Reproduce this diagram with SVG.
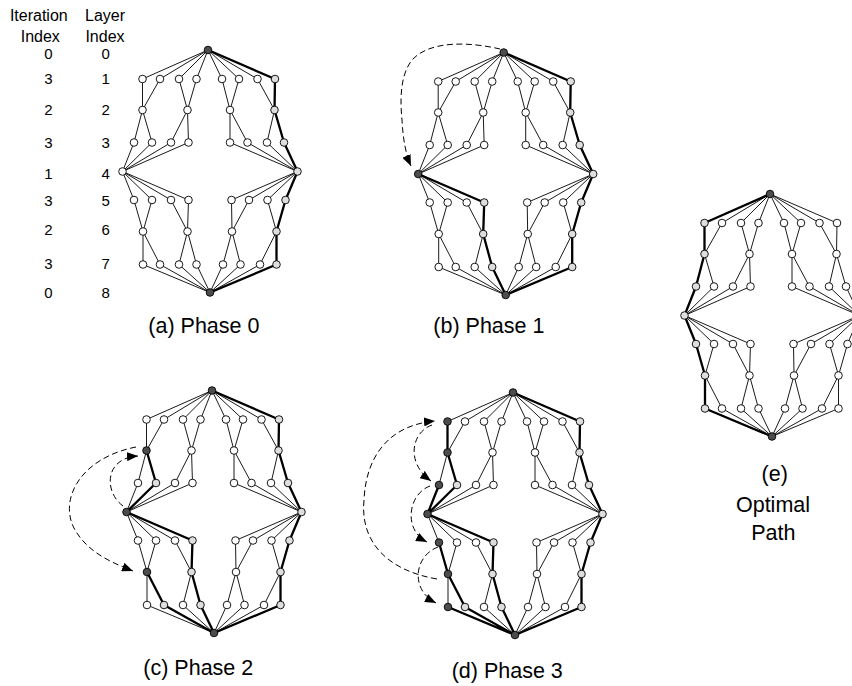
<svg xmlns="http://www.w3.org/2000/svg" xmlns:xlink="http://www.w3.org/1999/xlink" width="852" height="686" viewBox="0 0 852 686">
<style>
text{font-family:"Liberation Sans",Arial,Helvetica,sans-serif;fill:#000}
.hd{font-size:16px;text-anchor:middle}
.num{font-size:15px;text-anchor:middle}
.cap{font-size:21.5px}
.thin{fill:none;stroke:#000;stroke-width:0.9;stroke-linejoin:round;stroke-linecap:round}
.thick{fill:none;stroke:#000;stroke-width:2.3;stroke-linejoin:round;stroke-linecap:round}
.dash{fill:none;stroke:#000;stroke-width:1;stroke-dasharray:6 3.5}
circle{r:3.8px;fill:#fff;stroke:#000;stroke-width:0.9}
circle.g{fill:#dedede}
circle.d{fill:#4c4c4c}
</style>
<defs>
<marker id="ah" markerUnits="userSpaceOnUse" viewBox="0 0 11 9" refX="11" refY="4.5" markerWidth="11" markerHeight="9" orient="auto"><path d="M0 0L11 4.5L0 9z" fill="#000"/></marker>
<path id="E" class="thin" d="M208 50L142.5 79M208 50L160 79M208 50L179 79M208 50L196.5 79M208 50L222 79M208 50L239 79M208 50L257.5 79M208 50L275 79M142.5 79L142.5 110L160 79M179 79L187.5 110L196.5 79M222 79L230 110L239 79M257.5 79L274.5 110L275 79M134 142.5L142.5 110L152 142.5M171 142.5L187.5 110L188.5 142.5M230 142.5L230 110L247.5 142.5M267 142.5L274.5 110L284 142.5M134 142.5L122.5 171.5L152 142.5M171 142.5L122.5 171.5L188.5 142.5M230 142.5L297.5 171.5L247.5 142.5M267 142.5L297.5 171.5L284 142.5M134 200L122.5 171.5L152 200M171 200L122.5 171.5L188.5 200M231.5 200L297.5 171.5L249 200M267.5 200L297.5 171.5L285.5 200M134 200L143 231.5L152 200M171 200L187.5 231.5L188.5 200M231.5 200L232 231.5L249 200M267.5 200L276.5 231.5L285.5 200M143 264.5L143 231.5L160 264.5M179 264.5L187.5 231.5L196.5 264.5M223 264.5L232 231.5L240.5 264.5M260 264.5L276.5 231.5L276.5 264.5M143 264.5L210 292.5L160 264.5M179 264.5L210 292.5L196.5 264.5M223 264.5L210 292.5L240.5 264.5M260 264.5L210 292.5L276.5 264.5"/>
<path id="R" class="thick" d="M208 50L275 79L274.5 110L284 142.5L297.5 171.5L285.5 200L276.5 231.5L276.5 264.5L210 292.5"/>
</defs>

<g id="labels">
<text class="hd" x="38.8" y="20.5">Iteration</text>
<text class="hd" x="40.3" y="41.5">Index</text>
<text class="hd" x="105" y="20.5">Layer</text>
<text class="hd" x="105" y="41.5">Index</text>
<text class="num" x="48.3" y="58.7">0</text><text class="num" x="105.7" y="58.7">0</text>
<text class="num" x="48.3" y="84.4">3</text><text class="num" x="105.7" y="84.4">1</text>
<text class="num" x="48.3" y="115.4">2</text><text class="num" x="105.7" y="115.4">2</text>
<text class="num" x="48.3" y="147.7">3</text><text class="num" x="105.7" y="147.7">3</text>
<text class="num" x="48.3" y="178.7">1</text><text class="num" x="105.7" y="178.7">4</text>
<text class="num" x="48.3" y="206.1">3</text><text class="num" x="105.7" y="206.1">5</text>
<text class="num" x="48.3" y="235.4">2</text><text class="num" x="105.7" y="235.4">6</text>
<text class="num" x="48.3" y="268.7">3</text><text class="num" x="105.7" y="268.7">7</text>
<text class="num" x="48.3" y="298.1">0</text><text class="num" x="105.7" y="298.1">8</text>
<text class="cap" x="148.3" y="333">(a) Phase 0</text>
<text class="cap" x="433.3" y="333">(b) Phase 1</text>
<text class="cap" x="143.3" y="675">(c) Phase 2</text>
<text class="cap" x="451.7" y="678">(d) Phase 3</text>
<text class="cap" x="774.7" y="481" text-anchor="middle">(e)</text>
<text class="cap" x="773" y="511.5" text-anchor="middle">Optimal</text>
<text class="cap" x="773.3" y="540" text-anchor="middle">Path</text>
</g>

<g id="panel-a">
<g id="a-edges"><use href="#E"/><use href="#R"/></g>
<g id="a-nodes">
<circle id="a-0" class="d" cx="208" cy="50"/>
<circle id="a-1-0" cx="142.5" cy="79"/><circle id="a-1-1" cx="160" cy="79"/><circle id="a-1-2" cx="179" cy="79"/><circle id="a-1-3" cx="196.5" cy="79"/><circle id="a-1-4" cx="222" cy="79"/><circle id="a-1-5" cx="239" cy="79"/><circle id="a-1-6" cx="257.5" cy="79"/><circle id="a-1-7" class="g" cx="275" cy="79"/>
<circle id="a-2-0" cx="142.5" cy="110"/><circle id="a-2-1" cx="187.5" cy="110"/><circle id="a-2-2" cx="230" cy="110"/><circle id="a-2-3" class="g" cx="274.5" cy="110"/>
<circle id="a-3-0" cx="134" cy="142.5"/><circle id="a-3-1" cx="152" cy="142.5"/><circle id="a-3-2" cx="171" cy="142.5"/><circle id="a-3-3" cx="188.5" cy="142.5"/><circle id="a-3-4" cx="230" cy="142.5"/><circle id="a-3-5" cx="247.5" cy="142.5"/><circle id="a-3-6" cx="267" cy="142.5"/><circle id="a-3-7" class="g" cx="284" cy="142.5"/>
<circle id="a-4-0" cx="122.5" cy="171.5"/><circle id="a-4-1" class="g" cx="297.5" cy="171.5"/>
<circle id="a-5-0" cx="134" cy="200"/><circle id="a-5-1" cx="152" cy="200"/><circle id="a-5-2" cx="171" cy="200"/><circle id="a-5-3" cx="188.5" cy="200"/><circle id="a-5-4" cx="231.5" cy="200"/><circle id="a-5-5" cx="249" cy="200"/><circle id="a-5-6" cx="267.5" cy="200"/><circle id="a-5-7" class="g" cx="285.5" cy="200"/>
<circle id="a-6-0" cx="143" cy="231.5"/><circle id="a-6-1" cx="187.5" cy="231.5"/><circle id="a-6-2" cx="232" cy="231.5"/><circle id="a-6-3" class="g" cx="276.5" cy="231.5"/>
<circle id="a-7-0" cx="143" cy="264.5"/><circle id="a-7-1" cx="160" cy="264.5"/><circle id="a-7-2" cx="179" cy="264.5"/><circle id="a-7-3" cx="196.5" cy="264.5"/><circle id="a-7-4" cx="223" cy="264.5"/><circle id="a-7-5" cx="240.5" cy="264.5"/><circle id="a-7-6" cx="260" cy="264.5"/><circle id="a-7-7" class="g" cx="276.5" cy="264.5"/>
<circle id="a-8" class="d" cx="210" cy="292.5"/>
</g>
</g>

<g id="panel-b" transform="translate(295.7,2.5)">
<g id="b-edges"><use href="#E"/><use href="#R"/><path class="thick" d="M122.5 171.5L188.5 200L187.5 231.5L196.5 264.5L210 292.5"/></g>
<g id="b-nodes">
<circle id="b-0" class="d" cx="208" cy="50"/>
<circle id="b-1-0" cx="142.5" cy="79"/><circle id="b-1-1" cx="160" cy="79"/><circle id="b-1-2" cx="179" cy="79"/><circle id="b-1-3" cx="196.5" cy="79"/><circle id="b-1-4" cx="222" cy="79"/><circle id="b-1-5" cx="239" cy="79"/><circle id="b-1-6" cx="257.5" cy="79"/><circle id="b-1-7" class="g" cx="275" cy="79"/>
<circle id="b-2-0" cx="142.5" cy="110"/><circle id="b-2-1" cx="187.5" cy="110"/><circle id="b-2-2" cx="230" cy="110"/><circle id="b-2-3" class="g" cx="274.5" cy="110"/>
<circle id="b-3-0" cx="134" cy="142.5"/><circle id="b-3-1" cx="152" cy="142.5"/><circle id="b-3-2" cx="171" cy="142.5"/><circle id="b-3-3" cx="188.5" cy="142.5"/><circle id="b-3-4" cx="230" cy="142.5"/><circle id="b-3-5" cx="247.5" cy="142.5"/><circle id="b-3-6" cx="267" cy="142.5"/><circle id="b-3-7" class="g" cx="284" cy="142.5"/>
<circle id="b-4-0" class="d" cx="122.5" cy="171.5"/><circle id="b-4-1" class="g" cx="297.5" cy="171.5"/>
<circle id="b-5-0" cx="134" cy="200"/><circle id="b-5-1" cx="152" cy="200"/><circle id="b-5-2" cx="171" cy="200"/><circle id="b-5-3" class="g" cx="188.5" cy="200"/><circle id="b-5-4" cx="231.5" cy="200"/><circle id="b-5-5" cx="249" cy="200"/><circle id="b-5-6" cx="267.5" cy="200"/><circle id="b-5-7" class="g" cx="285.5" cy="200"/>
<circle id="b-6-0" cx="143" cy="231.5"/><circle id="b-6-1" class="g" cx="187.5" cy="231.5"/><circle id="b-6-2" cx="232" cy="231.5"/><circle id="b-6-3" class="g" cx="276.5" cy="231.5"/>
<circle id="b-7-0" cx="143" cy="264.5"/><circle id="b-7-1" cx="160" cy="264.5"/><circle id="b-7-2" cx="179" cy="264.5"/><circle id="b-7-3" class="g" cx="196.5" cy="264.5"/><circle id="b-7-4" cx="223" cy="264.5"/><circle id="b-7-5" cx="240.5" cy="264.5"/><circle id="b-7-6" cx="260" cy="264.5"/><circle id="b-7-7" class="g" cx="276.5" cy="264.5"/>
<circle id="b-8" class="d" cx="210" cy="292.5"/>
</g>
</g>

<g id="panel-c" transform="translate(4,340.5)">
<g id="c-edges"><use href="#E"/><use href="#R"/><path class="thick" d="M142.5 110L152 142.5L122.5 171.5L188.5 200L187.5 231.5L196.5 264.5L210 292.5M143 231.5L160 264.5L210 292.5"/></g>
<g id="c-nodes">
<circle id="c-0" class="d" cx="208" cy="50"/>
<circle id="c-1-0" cx="142.5" cy="79"/><circle id="c-1-1" cx="160" cy="79"/><circle id="c-1-2" cx="179" cy="79"/><circle id="c-1-3" cx="196.5" cy="79"/><circle id="c-1-4" cx="222" cy="79"/><circle id="c-1-5" cx="239" cy="79"/><circle id="c-1-6" cx="257.5" cy="79"/><circle id="c-1-7" class="g" cx="275" cy="79"/>
<circle id="c-2-0" class="d" cx="142.5" cy="110"/><circle id="c-2-1" cx="187.5" cy="110"/><circle id="c-2-2" cx="230" cy="110"/><circle id="c-2-3" class="g" cx="274.5" cy="110"/>
<circle id="c-3-0" cx="134" cy="142.5"/><circle id="c-3-1" class="g" cx="152" cy="142.5"/><circle id="c-3-2" cx="171" cy="142.5"/><circle id="c-3-3" cx="188.5" cy="142.5"/><circle id="c-3-4" cx="230" cy="142.5"/><circle id="c-3-5" cx="247.5" cy="142.5"/><circle id="c-3-6" cx="267" cy="142.5"/><circle id="c-3-7" class="g" cx="284" cy="142.5"/>
<circle id="c-4-0" class="d" cx="122.5" cy="171.5"/><circle id="c-4-1" class="g" cx="297.5" cy="171.5"/>
<circle id="c-5-0" cx="134" cy="200"/><circle id="c-5-1" cx="152" cy="200"/><circle id="c-5-2" cx="171" cy="200"/><circle id="c-5-3" class="g" cx="188.5" cy="200"/><circle id="c-5-4" cx="231.5" cy="200"/><circle id="c-5-5" cx="249" cy="200"/><circle id="c-5-6" cx="267.5" cy="200"/><circle id="c-5-7" class="g" cx="285.5" cy="200"/>
<circle id="c-6-0" class="d" cx="143" cy="231.5"/><circle id="c-6-1" class="g" cx="187.5" cy="231.5"/><circle id="c-6-2" cx="232" cy="231.5"/><circle id="c-6-3" class="g" cx="276.5" cy="231.5"/>
<circle id="c-7-0" cx="143" cy="264.5"/><circle id="c-7-1" class="g" cx="160" cy="264.5"/><circle id="c-7-2" cx="179" cy="264.5"/><circle id="c-7-3" class="g" cx="196.5" cy="264.5"/><circle id="c-7-4" cx="223" cy="264.5"/><circle id="c-7-5" cx="240.5" cy="264.5"/><circle id="c-7-6" cx="260" cy="264.5"/><circle id="c-7-7" class="g" cx="276.5" cy="264.5"/>
<circle id="c-8" class="d" cx="210" cy="292.5"/>
</g>
</g>

<g id="panel-d" transform="translate(305,342.5)">
<g id="d-edges"><use href="#E"/><use href="#R"/><path class="thick" d="M142.5 79L142.5 110L152 142.5L122.5 171.5L188.5 200L187.5 231.5L196.5 264.5L210 292.5M134 142.5L122.5 171.5M134 200L143 231.5L160 264.5L210 292.5M143 264.5L210 292.5"/></g>
<g id="d-nodes">
<circle id="d-0" class="d" cx="208" cy="50"/>
<circle id="d-1-0" class="d" cx="142.5" cy="79"/><circle id="d-1-1" cx="160" cy="79"/><circle id="d-1-2" cx="179" cy="79"/><circle id="d-1-3" cx="196.5" cy="79"/><circle id="d-1-4" cx="222" cy="79"/><circle id="d-1-5" cx="239" cy="79"/><circle id="d-1-6" cx="257.5" cy="79"/><circle id="d-1-7" class="g" cx="275" cy="79"/>
<circle id="d-2-0" class="d" cx="142.5" cy="110"/><circle id="d-2-1" cx="187.5" cy="110"/><circle id="d-2-2" cx="230" cy="110"/><circle id="d-2-3" class="g" cx="274.5" cy="110"/>
<circle id="d-3-0" class="d" cx="134" cy="142.5"/><circle id="d-3-1" class="g" cx="152" cy="142.5"/><circle id="d-3-2" cx="171" cy="142.5"/><circle id="d-3-3" cx="188.5" cy="142.5"/><circle id="d-3-4" cx="230" cy="142.5"/><circle id="d-3-5" cx="247.5" cy="142.5"/><circle id="d-3-6" cx="267" cy="142.5"/><circle id="d-3-7" class="g" cx="284" cy="142.5"/>
<circle id="d-4-0" class="d" cx="122.5" cy="171.5"/><circle id="d-4-1" class="g" cx="297.5" cy="171.5"/>
<circle id="d-5-0" class="d" cx="134" cy="200"/><circle id="d-5-1" cx="152" cy="200"/><circle id="d-5-2" cx="171" cy="200"/><circle id="d-5-3" class="g" cx="188.5" cy="200"/><circle id="d-5-4" cx="231.5" cy="200"/><circle id="d-5-5" cx="249" cy="200"/><circle id="d-5-6" cx="267.5" cy="200"/><circle id="d-5-7" class="g" cx="285.5" cy="200"/>
<circle id="d-6-0" class="d" cx="143" cy="231.5"/><circle id="d-6-1" class="g" cx="187.5" cy="231.5"/><circle id="d-6-2" cx="232" cy="231.5"/><circle id="d-6-3" class="g" cx="276.5" cy="231.5"/>
<circle id="d-7-0" class="d" cx="143" cy="264.5"/><circle id="d-7-1" class="g" cx="160" cy="264.5"/><circle id="d-7-2" cx="179" cy="264.5"/><circle id="d-7-3" class="g" cx="196.5" cy="264.5"/><circle id="d-7-4" cx="223" cy="264.5"/><circle id="d-7-5" cx="240.5" cy="264.5"/><circle id="d-7-6" cx="260" cy="264.5"/><circle id="d-7-7" class="g" cx="276.5" cy="264.5"/>
<circle id="d-8" class="d" cx="210" cy="292.5"/>
</g>
</g>

<g id="panel-e" transform="translate(562,144)">
<g id="e-edges"><use href="#E"/><path class="thick" d="M208 50L142.5 79L142.5 110L134 142.5L122.5 171.5L134 200L143 231.5L143 264.5L210 292.5"/></g>
<g id="e-nodes">
<circle id="e-0" class="d" cx="208" cy="50"/>
<circle id="e-1-0" class="g" cx="142.5" cy="79"/><circle id="e-1-1" cx="160" cy="79"/><circle id="e-1-2" cx="179" cy="79"/><circle id="e-1-3" cx="196.5" cy="79"/><circle id="e-1-4" cx="222" cy="79"/><circle id="e-1-5" cx="239" cy="79"/><circle id="e-1-6" cx="257.5" cy="79"/><circle id="e-1-7" cx="275" cy="79"/>
<circle id="e-2-0" class="g" cx="142.5" cy="110"/><circle id="e-2-1" cx="187.5" cy="110"/><circle id="e-2-2" cx="230" cy="110"/><circle id="e-2-3" cx="274.5" cy="110"/>
<circle id="e-3-0" class="g" cx="134" cy="142.5"/><circle id="e-3-1" cx="152" cy="142.5"/><circle id="e-3-2" cx="171" cy="142.5"/><circle id="e-3-3" cx="188.5" cy="142.5"/><circle id="e-3-4" cx="230" cy="142.5"/><circle id="e-3-5" cx="247.5" cy="142.5"/><circle id="e-3-6" cx="267" cy="142.5"/><circle id="e-3-7" cx="284" cy="142.5"/>
<circle id="e-4-0" class="g" cx="122.5" cy="171.5"/><circle id="e-4-1" cx="297.5" cy="171.5"/>
<circle id="e-5-0" class="g" cx="134" cy="200"/><circle id="e-5-1" cx="152" cy="200"/><circle id="e-5-2" cx="171" cy="200"/><circle id="e-5-3" cx="188.5" cy="200"/><circle id="e-5-4" cx="231.5" cy="200"/><circle id="e-5-5" cx="249" cy="200"/><circle id="e-5-6" cx="267.5" cy="200"/><circle id="e-5-7" cx="285.5" cy="200"/>
<circle id="e-6-0" class="g" cx="143" cy="231.5"/><circle id="e-6-1" cx="187.5" cy="231.5"/><circle id="e-6-2" cx="232" cy="231.5"/><circle id="e-6-3" cx="276.5" cy="231.5"/>
<circle id="e-7-0" class="g" cx="143" cy="264.5"/><circle id="e-7-1" cx="160" cy="264.5"/><circle id="e-7-2" cx="179" cy="264.5"/><circle id="e-7-3" cx="196.5" cy="264.5"/><circle id="e-7-4" cx="223" cy="264.5"/><circle id="e-7-5" cx="240.5" cy="264.5"/><circle id="e-7-6" cx="260" cy="264.5"/><circle id="e-7-7" cx="276.5" cy="264.5"/>
<circle id="e-8" class="d" cx="210" cy="292.5"/>
</g>
</g>

<g id="connectors">
<path class="dash" marker-end="url(#ah)" d="M500 49C470 42 430 40 412 60C400 75 400 100 402 120C403 140 406 155 411 166"/>
<path class="dash" marker-end="url(#ah)" d="M123 506C104 492 104 458 138 456"/>
<path class="dash" marker-end="url(#ah)" d="M136 447C80 458 58 500 75 530C88 552 110 562 133 571"/>
<path class="dash" marker-end="url(#ah)" d="M437 579C385 570 360 540 364 500C366 455 390 425 435 421"/>
<path class="dash" marker-end="url(#ah)" d="M432 425C412 432 405 462 431 481"/>
<path class="dash" marker-end="url(#ah)" d="M430 486C408 494 403 530 427 542"/>
<path class="dash" marker-end="url(#ah)" d="M438 547C414 556 410 590 436 603"/>
</g>
</svg>
